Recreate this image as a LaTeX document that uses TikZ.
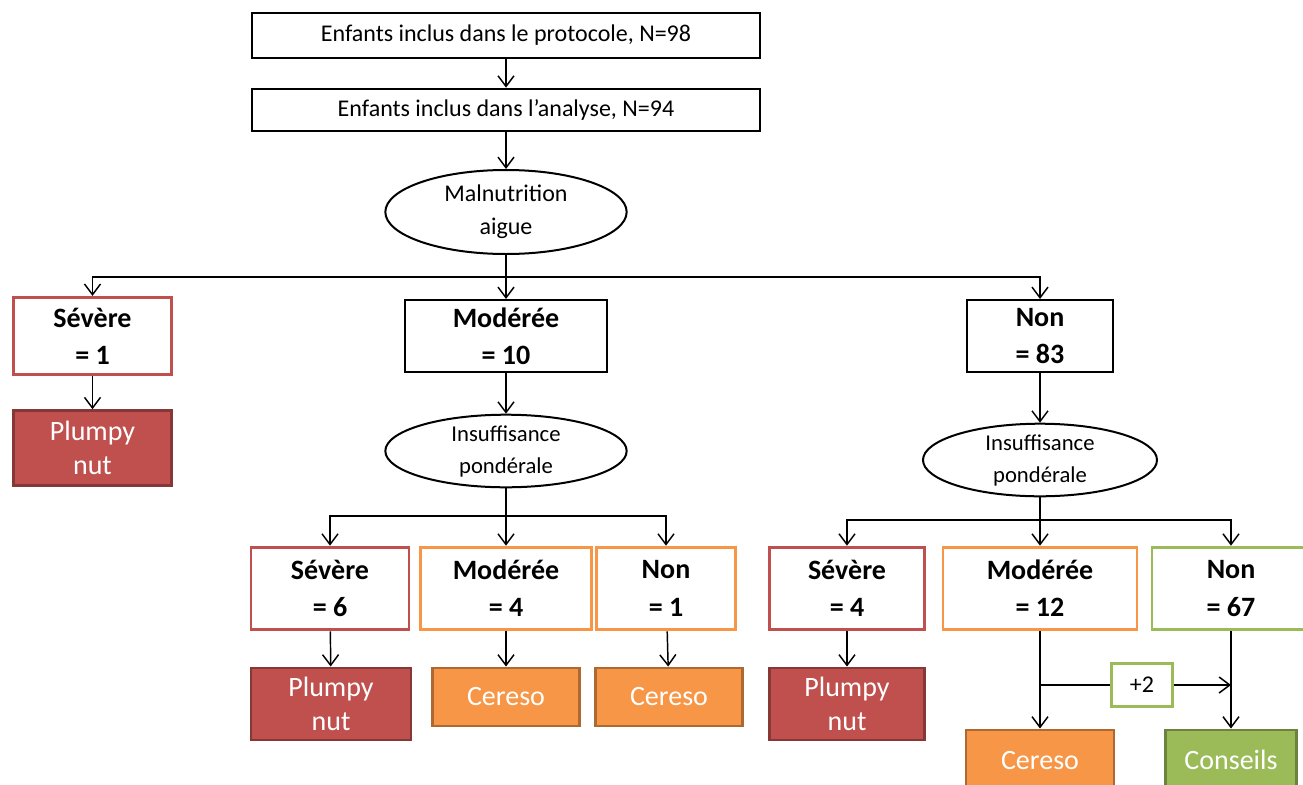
\documentclass[tikz,border=0pt]{standalone}
\usepackage{fontspec}
\setmainfont{Carlito}
\usepackage{tikz}
\usetikzlibrary{shapes.geometric, arrows.meta}
\definecolor{sevred}{HTML}{C0504D}
\definecolor{modorange}{HTML}{F79646}
\definecolor{nongreen}{HTML}{9BBB59}
\tikzset
{
    etape/.style={draw, line width=1.5pt, inner sep=0pt, font=\fontsize{18}{22}\selectfont}, % cadres du haut
    critere/.style={ellipse, draw, line width=1.5pt, inner sep=0pt, align=center, font=\fontsize{18}{25}\selectfont},
    classe/.style={draw=#1, fill=white, line width=2.2pt, inner sep=0pt, align=center, font=\bfseries\fontsize{21}{28}\selectfont},
    traitement/.style={draw=#1!70!black, fill=#1, line width=2.2pt, inner sep=0pt, align=center, text=white, font=\fontsize{21}{26}\selectfont},
}

\begin{document}
\begin{tikzpicture}[x=0.75pt, y=-0.75pt, >={Straight Barb[length=8pt,width=12pt]}, line width=1.1pt]
    \useasboundingbox (0,0) rectangle (1303,785);

    % Effectifs
    \node[etape, minimum width=381pt, minimum height=33.75pt] (proto) at (506,35.5) {Enfants inclus dans le protocole, N=98};
    \node[etape, minimum width=381pt, minimum height=32pt] (analyse) at (506,110) {Enfants inclus dans l’analyse, N=94};
    \node[critere, minimum width=181pt, minimum height=63pt] (mal) at (506,212) {Malnutrition\\aigue};

    % Malnutrition aigue
    \node[classe=sevred, minimum width=119pt, minimum height=58pt] (sev1) at (92.5,336) {Sévère\\= 1};
    \node[classe=black, line width=1.5pt, minimum width=151pt, minimum height=54pt] (mod1) at (506,336) {Modérée\\= 10};
    \node[classe=black, line width=1.5pt, minimum width=109pt, minimum height=54pt] (non1) at (1040,336) {Non\\= 83};
    \node[traitement=sevred, minimum width=119pt, minimum height=56pt] (plum1) at (92.5,448) {Plumpy\\nut};

    % Insuffisance ponderale
    \node[critere, font=\fontsize{17}{24}\selectfont, minimum width=181pt, minimum height=52.5pt] (ins1) at (506,451) {Insuffisance\\pondérale};
    \node[critere, font=\fontsize{17}{24}\selectfont, minimum width=175.5pt, minimum height=53pt] (ins2) at (1040,460) {Insuffisance\\pondérale};

    \node[classe=sevred, minimum width=118.5pt, minimum height=62pt] (sev2) at (330,588.5) {Sévère\\= 6};
    \node[classe=modorange, minimum width=128pt, minimum height=62pt] (mod2) at (506,588.5) {Modérée\\= 4};
    \node[classe=modorange, minimum width=104pt, minimum height=62pt] (non2) at (666,588.5) {Non\\= 1};
    \node[classe=sevred, minimum width=116pt, minimum height=62pt] (sev3) at (847,588.5) {Sévère\\= 4};
    \node[classe=modorange, minimum width=145.5pt, minimum height=62pt] (mod3) at (1040,588.5) {Modérée\\= 12};
    \node[classe=nongreen, minimum width=118.5pt, minimum height=62pt] (non3) at (1231,588.5) {Non\\= 67};

    % Prise en charge
    \node[traitement=sevred, minimum width=120pt, minimum height=54pt] (plum2) at (331,704) {Plumpy\\nut};
    \node[traitement=modorange, minimum width=110pt, minimum height=43.5pt] (cer2) at (506,697) {Cereso};
    \node[traitement=modorange, minimum width=110pt, minimum height=43.5pt] (cer3) at (669,697) {Cereso};
    \node[traitement=sevred, minimum width=116pt, minimum height=54pt] (plum3) at (847,704) {Plumpy\\nut};
    \node[traitement=modorange, minimum width=111pt, minimum height=46.5pt] (cer4) at (1040,761) {Cereso};
    \node[traitement=nongreen, minimum width=98pt, minimum height=45pt] (cons) at (1231,760) {Conseils};
    \node[draw=nongreen, line width=2.2pt, inner sep=0pt, minimum width=46pt, minimum height=32pt, font=\fontsize{18}{22}\selectfont] (plus) at (1142,685) {+2};

    % Embranchements
    \coordinate (j1) at (506,277);
    \coordinate (j2) at (506,516);
    \coordinate (j3) at (1040,520);
    \coordinate (k1) at (1040,685);
    \coordinate (k2) at (1231,685);

    \draw[->] (proto) -- (analyse);
    \draw[->] (analyse) -- (mal);
    \draw (mal) -- (j1);
    \draw[->] (j1) -- (mod1);
    \draw[->] (j1) -| (sev1);
    \draw[->] (j1) -| (non1);
    \draw[->] (sev1) -- (plum1);
    \draw[->] (mod1) -- (ins1);
    \draw[->] (non1) -- (ins2);

    \draw (ins1) -- (j2);
    \draw[->] (j2) -- (mod2);
    \draw[->] (j2) -| (sev2);
    \draw[->] (j2) -| (non2);
    \draw (ins2) -- (j3);
    \draw[->] (j3) -- (mod3);
    \draw[->] (j3) -| (sev3);
    \draw[->] (j3) -| (non3);

    \draw[->] (sev2) -- (plum2);
    \draw[->] (mod2) -- (cer2);
    \draw[->] (non2) -- (cer3);
    \draw[->] (sev3) -- (plum3);
    \draw[->] (mod3) -- (cer4);
    \draw[->] (non3) -- (cons);
    \draw (k1) -- (plus);
    \draw[->] (plus) -- (k2);
\end{tikzpicture}
\end{document}
